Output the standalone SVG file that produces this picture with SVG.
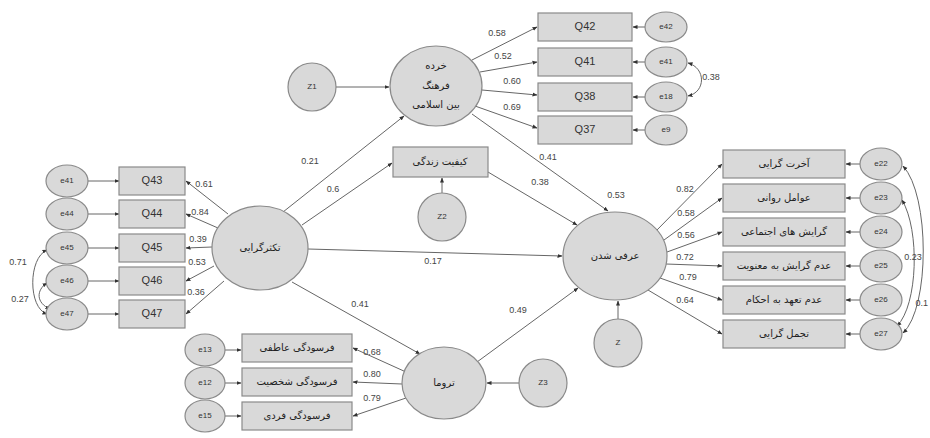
<svg xmlns="http://www.w3.org/2000/svg" width="930" height="438" viewBox="0 0 930 438">
<defs>
<marker id="ah" viewBox="0 0 10 10" refX="9" refY="5" markerWidth="5" markerHeight="5" orient="auto-start-reverse">
<path d="M0,1 L10,5 L0,9 z" fill="#333"/>
</marker>
</defs>
<style>
.n ellipse,.n rect,.n circle{fill:#d9d9d9;stroke:#8a8a8a;stroke-width:1.2}
.fa{font-family:"DejaVu Sans","Noto Sans",sans-serif;font-size:10px;fill:#222;text-anchor:middle;dominant-baseline:middle}
.tx{font-family:"Liberation Sans",Arial,sans-serif;font-size:11px;fill:#333;text-anchor:middle;dominant-baseline:middle}
.sm{font-family:"Liberation Sans",Arial,sans-serif;font-size:8px;fill:#333;text-anchor:middle;dominant-baseline:middle}
.lb{font-family:"Liberation Sans",Arial,sans-serif;font-size:9px;fill:#444;text-anchor:middle;dominant-baseline:middle}
#edges path,#edges line{stroke:#666;stroke-width:1;fill:none;marker-end:url(#ah)}
#edges .cov{marker-start:url(#ah)}
</style>
<rect width="930" height="438" fill="#fff"/>

<g id="edges">
<line x1="336" y1="87" x2="389" y2="87"/>
<line x1="472" y1="60" x2="537" y2="27"/>
<line x1="480" y1="72" x2="537" y2="62"/>
<line x1="482" y1="90" x2="537" y2="95"/>
<line x1="475" y1="106" x2="537" y2="128"/>
<line x1="645" y1="27" x2="633" y2="27"/>
<line x1="645" y1="62" x2="633" y2="62"/>
<line x1="645" y1="97" x2="633" y2="97"/>
<line x1="645" y1="130" x2="633" y2="130"/>
<path class="cov" d="M688,63 C706,68 706,92 688,96"/>
<line x1="283" y1="212" x2="404" y2="116"/>
<line x1="302" y1="225" x2="392" y2="163"/>
<line x1="488" y1="172" x2="577" y2="225"/>
<line x1="472" y1="114" x2="608" y2="211"/>
<line x1="442" y1="193" x2="442" y2="178"/>
<line x1="308" y1="249" x2="562" y2="256"/>
<line x1="292" y1="282" x2="420" y2="354"/>
<line x1="477" y1="362" x2="578" y2="288"/>
<line x1="519" y1="383" x2="487" y2="383"/>
<line x1="618" y1="319" x2="618" y2="301"/>
<line x1="228" y1="214" x2="186" y2="181"/>
<line x1="218" y1="228" x2="186" y2="214"/>
<line x1="212" y1="247" x2="186" y2="248"/>
<line x1="214" y1="266" x2="186" y2="281"/>
<line x1="224" y1="281" x2="186" y2="314"/>
<line x1="88" y1="181" x2="119" y2="181"/>
<line x1="88" y1="214" x2="119" y2="214"/>
<line x1="88" y1="248" x2="119" y2="248"/>
<line x1="88" y1="281" x2="119" y2="281"/>
<line x1="88" y1="314" x2="119" y2="314"/>
<path class="cov" d="M47,250 C28,258 28,308 47,314"/>
<path class="cov" d="M47,283 C36,290 36,303 50,309"/>
<line x1="655" y1="232" x2="722" y2="164"/>
<line x1="664" y1="240" x2="722" y2="198"/>
<line x1="667" y1="252" x2="722" y2="232"/>
<line x1="666" y1="264" x2="722" y2="266"/>
<line x1="660" y1="278" x2="722" y2="300"/>
<line x1="648" y1="290" x2="722" y2="334"/>
<line x1="860" y1="164" x2="846" y2="164"/>
<line x1="860" y1="198" x2="846" y2="198"/>
<line x1="860" y1="232" x2="846" y2="232"/>
<line x1="860" y1="266" x2="846" y2="266"/>
<line x1="860" y1="300" x2="846" y2="300"/>
<line x1="860" y1="334" x2="846" y2="334"/>
<path class="cov" d="M903,166 C930,195 930,308 903,333"/>
<path class="cov" d="M902,200 C920,230 918,305 897,326"/>
<line x1="406" y1="372" x2="353" y2="348"/>
<line x1="402" y1="384" x2="353" y2="382"/>
<line x1="406" y1="398" x2="353" y2="416"/>
<line x1="225" y1="350" x2="241" y2="350"/>
<line x1="225" y1="383" x2="241" y2="383"/>
<line x1="225" y1="416" x2="241" y2="416"/>
</g>

<g class="lbls">
<text class="lb" x="497" y="34">0.58</text>
<text class="lb" x="503" y="57">0.52</text>
<text class="lb" x="512" y="82">0.60</text>
<text class="lb" x="512" y="108">0.69</text>
<text class="lb" x="711" y="78">0.38</text>
<text class="lb" x="310" y="162">0.21</text>
<text class="lb" x="333" y="190">0.6</text>
<text class="lb" x="540" y="183">0.38</text>
<text class="lb" x="548" y="158">0.41</text>
<text class="lb" x="616" y="196">0.53</text>
<text class="lb" x="433" y="262">0.17</text>
<text class="lb" x="360" y="305">0.41</text>
<text class="lb" x="518" y="311">0.49</text>
<text class="lb" x="204" y="185">0.61</text>
<text class="lb" x="200" y="213">0.84</text>
<text class="lb" x="198" y="240">0.39</text>
<text class="lb" x="197" y="263">0.53</text>
<text class="lb" x="196" y="293">0.36</text>
<text class="lb" x="18" y="263">0.71</text>
<text class="lb" x="20" y="300">0.27</text>
<text class="lb" x="685" y="190">0.82</text>
<text class="lb" x="686" y="214">0.58</text>
<text class="lb" x="686" y="236">0.56</text>
<text class="lb" x="685" y="258">0.72</text>
<text class="lb" x="688" y="278">0.79</text>
<text class="lb" x="685" y="301">0.64</text>
<text class="lb" x="913" y="258">0.23</text>
<text class="lb" x="928" y="304" style="text-anchor:end">0.1</text>
<text class="lb" x="372" y="353">0.68</text>
<text class="lb" x="372" y="375">0.80</text>
<text class="lb" x="372" y="399">0.79</text>
</g>

<g id="n_subculture" class="n"><ellipse cx="436" cy="86" rx="46" ry="40"/>
<text class="fa" x="436" y="66">خرده</text><text class="fa" x="436" y="86">فرهنگ</text><text class="fa" x="436" y="105">بین اسلامی</text></g>
<g id="n_z1" class="n"><circle cx="312" cy="87" r="24"/><text class="sm" x="312" y="87">Z1</text></g>
<g id="n_q42" class="n"><rect x="538" y="13" width="94" height="28"/><text class="tx" x="585" y="27">Q42</text></g>
<g id="n_q41" class="n"><rect x="538" y="48" width="94" height="28"/><text class="tx" x="585" y="62">Q41</text></g>
<g id="n_q38" class="n"><rect x="538" y="83" width="94" height="28"/><text class="tx" x="585" y="97">Q38</text></g>
<g id="n_q37" class="n"><rect x="538" y="116" width="94" height="28"/><text class="tx" x="585" y="130">Q37</text></g>
<g id="n_e42" class="n"><ellipse cx="666" cy="27" rx="21" ry="15"/><text class="sm" x="666" y="27">e42</text></g>
<g id="n_e41t" class="n"><ellipse cx="666" cy="62" rx="21" ry="15"/><text class="sm" x="666" y="62">e41</text></g>
<g id="n_e18" class="n"><ellipse cx="666" cy="97" rx="21" ry="15"/><text class="sm" x="666" y="97">e18</text></g>
<g id="n_e9" class="n"><ellipse cx="666" cy="130" rx="21" ry="15"/><text class="sm" x="666" y="130">e9</text></g>

<g id="n_quality" class="n"><rect x="393" y="147" width="95" height="30"/><text class="fa" x="440" y="162">کیفیت زندگی</text></g>
<g id="n_z2" class="n"><circle cx="442" cy="217" r="24"/><text class="sm" x="442" y="217">Z2</text></g>

<g id="n_pluralism" class="n"><ellipse cx="260" cy="248" rx="48" ry="42"/><text class="fa" x="260" y="248">تکثرگرایی</text></g>
<g id="n_q43" class="n"><rect x="119" y="167" width="66" height="28"/><text class="tx" x="152" y="181">Q43</text></g>
<g id="n_q44" class="n"><rect x="119" y="200" width="66" height="28"/><text class="tx" x="152" y="214">Q44</text></g>
<g id="n_q45" class="n"><rect x="119" y="234" width="66" height="28"/><text class="tx" x="152" y="248">Q45</text></g>
<g id="n_q46" class="n"><rect x="119" y="267" width="66" height="28"/><text class="tx" x="152" y="281">Q46</text></g>
<g id="n_q47" class="n"><rect x="119" y="300" width="66" height="28"/><text class="tx" x="152" y="314">Q47</text></g>
<g id="n_e41" class="n"><ellipse cx="67" cy="181" rx="21" ry="16"/><text class="sm" x="67" y="181">e41</text></g>
<g id="n_e44" class="n"><ellipse cx="67" cy="214" rx="21" ry="16"/><text class="sm" x="67" y="214">e44</text></g>
<g id="n_e45" class="n"><ellipse cx="67" cy="248" rx="21" ry="16"/><text class="sm" x="67" y="248">e45</text></g>
<g id="n_e46" class="n"><ellipse cx="67" cy="281" rx="21" ry="16"/><text class="sm" x="67" y="281">e46</text></g>
<g id="n_e47" class="n"><ellipse cx="67" cy="314" rx="21" ry="16"/><text class="sm" x="67" y="314">e47</text></g>

<g id="n_secular" class="n"><ellipse cx="615" cy="256" rx="52" ry="44"/><text class="fa" x="615" y="256">عرفی شدن</text></g>
<g id="n_z" class="n"><circle cx="618" cy="343" r="24"/><text class="sm" x="618" y="343">Z</text></g>
<g id="n_r1" class="n"><rect x="723" y="150" width="122" height="28"/><text class="fa" x="784" y="164">آخرت گرایی</text></g>
<g id="n_r2" class="n"><rect x="723" y="184" width="122" height="28"/><text class="fa" x="784" y="198">عوامل روانی</text></g>
<g id="n_r3" class="n"><rect x="723" y="218" width="122" height="28"/><text class="fa" x="784" y="232">گرایش های اجتماعی</text></g>
<g id="n_r4" class="n"><rect x="723" y="252" width="122" height="28"/><text class="fa" x="784" y="266">عدم گرایش به معنویت</text></g>
<g id="n_r5" class="n"><rect x="723" y="286" width="122" height="28"/><text class="fa" x="784" y="300">عدم تعهد به احکام</text></g>
<g id="n_r6" class="n"><rect x="723" y="320" width="122" height="28"/><text class="fa" x="784" y="334">تجمل گرایی</text></g>
<g id="n_e22" class="n"><ellipse cx="881" cy="164" rx="21" ry="16"/><text class="sm" x="881" y="164">e22</text></g>
<g id="n_e23" class="n"><ellipse cx="881" cy="198" rx="21" ry="16"/><text class="sm" x="881" y="198">e23</text></g>
<g id="n_e24" class="n"><ellipse cx="881" cy="232" rx="21" ry="16"/><text class="sm" x="881" y="232">e24</text></g>
<g id="n_e25" class="n"><ellipse cx="881" cy="266" rx="21" ry="16"/><text class="sm" x="881" y="266">e25</text></g>
<g id="n_e26" class="n"><ellipse cx="881" cy="300" rx="21" ry="16"/><text class="sm" x="881" y="300">e26</text></g>
<g id="n_e27" class="n"><ellipse cx="881" cy="334" rx="21" ry="16"/><text class="sm" x="881" y="334">e27</text></g>

<g id="n_trauma" class="n"><ellipse cx="444" cy="383" rx="42" ry="36"/><text class="fa" x="444" y="383">تروما</text></g>
<g id="n_z3" class="n"><circle cx="543" cy="383" r="24"/><text class="sm" x="543" y="383">Z3</text></g>
<g id="n_b1" class="n"><rect x="242" y="334" width="110" height="28"/><text class="fa" x="297" y="348">فرسودگی عاطفی</text></g>
<g id="n_b2" class="n"><rect x="242" y="368" width="110" height="28"/><text class="fa" x="297" y="382">فرسودگی شخصیت</text></g>
<g id="n_b3" class="n"><rect x="242" y="402" width="110" height="28"/><text class="fa" x="297" y="416">فرسودگی فردی</text></g>
<g id="n_e13" class="n"><ellipse cx="205" cy="350" rx="20" ry="16"/><text class="sm" x="205" y="350">e13</text></g>
<g id="n_e12" class="n"><ellipse cx="205" cy="383" rx="20" ry="16"/><text class="sm" x="205" y="383">e12</text></g>
<g id="n_e15" class="n"><ellipse cx="205" cy="416" rx="20" ry="16"/><text class="sm" x="205" y="416">e15</text></g>
</svg>
